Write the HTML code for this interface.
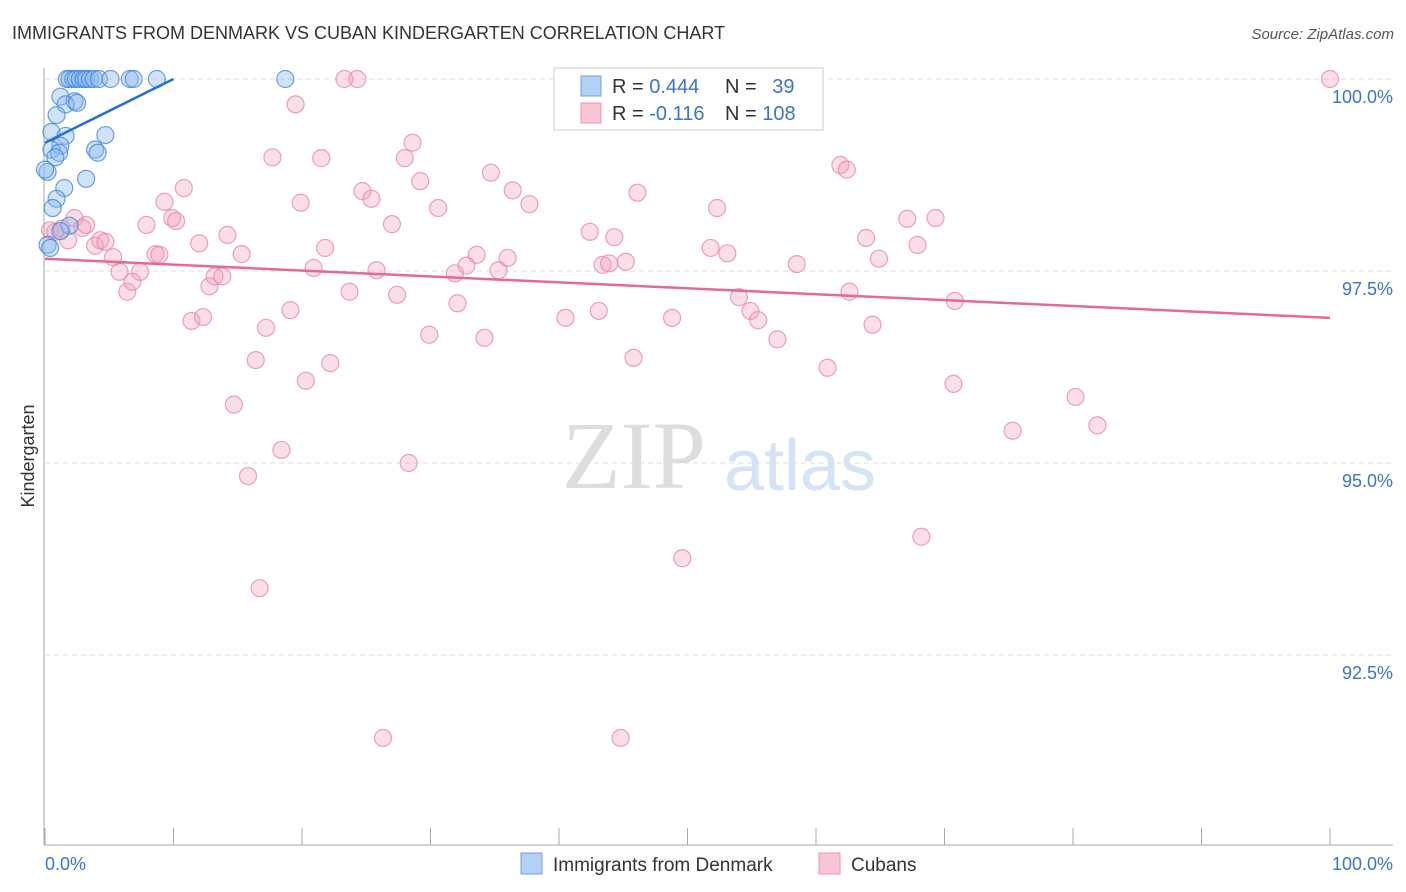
<!DOCTYPE html>
<html><head><meta charset="utf-8"><style>
body{margin:0;background:#fff;font-family:"Liberation Sans",sans-serif}
svg{display:block}
</style></head><body>
<svg id="c" width="1406" height="892" xmlns="http://www.w3.org/2000/svg">
<text x="12" y="39" font-size="18" fill="#333">IMMIGRANTS FROM DENMARK VS CUBAN KINDERGARTEN CORRELATION CHART</text>
<text x="1394" y="39" font-size="15" fill="#555" font-style="italic" text-anchor="end">Source: ZipAtlas.com</text>
<text x="634" y="488" font-size="96" fill="#ddd" font-family="Liberation Serif" text-anchor="middle">ZIP</text>
<text x="800" y="490" font-size="72" fill="#d4e3f5" text-anchor="middle">atlas</text>
<text transform="translate(34,456) rotate(-90)" font-size="18" fill="#333" text-anchor="middle">Kindergarten</text>
<g id="grid"></g><g id="pts"></g><g id="lines"></g>
<g>
<rect x="554" y="68" width="269" height="62" fill="#fff" stroke="#ccc"/>
<rect x="581" y="76" width="20" height="20" fill="#b3d0f5" stroke="#6fa0e0"/>
<rect x="581" y="103" width="20" height="20" fill="#f9c5d5" stroke="#ec95b0"/>
<text x="612" y="93" font-size="20" fill="#333">R = <tspan fill="#3a73d0">0.444</tspan></text>
<text x="725" y="93" font-size="20" fill="#333">N = <tspan fill="#3a73d0" dx="10">39</tspan></text>
<text x="612" y="120" font-size="20" fill="#333">R = <tspan fill="#3a73d0">-0.116</tspan></text>
<text x="725" y="120" font-size="20" fill="#333">N = <tspan fill="#3a73d0">108</tspan></text>
</g>
<g>
<rect x="521" y="853" width="21" height="21" fill="#b3d0f5" stroke="#6fa0e0"/>
<text x="553" y="871" font-size="19" fill="#333">Immigrants from Denmark</text>
<rect x="819" y="853" width="21" height="21" fill="#f9c5d5" stroke="#ec95b0"/>
<text x="851" y="871" font-size="19" fill="#333">Cubans</text>
</g>
</svg>
<script>
const xTicks=[0,10,20,30,40,50,60,70,80,90,100];
const yTicks=[100,97.5,95,92.5];
const yTickLabels=["100.0%","97.5%","95.0%","92.5%"];
const blueX=[1.7,1.9,2.2,2.4,2.7,3.0,3.2,3.5,3.8,4.2,5.1,6.6,6.9,8.7,18.7,1.2,2.3,1.6,2.5,0.9,0.5,1.6,4.7,1.2,0.5,1.1,0.8,3.9,4.1,0.2,1.5,3.2,0.9,0.6,1.9,0.2,0.4,1.2,0];
const blueY=[100,100,100,100,100,100,100,100,100,100,100,100,100,100,100,99.77,99.71,99.67,99.69,99.53,99.31,99.26,99.27,99.13,99.08,99.04,98.98,99.08,99.04,98.79,98.58,98.70,98.44,98.32,98.09,97.84,97.80,98.02,98.82];
const pinkX=[0.4,0.8,1.3,1.8,2.3,2.9,3.2,3.9,4.3,4.7,5.3,5.8,6.4,6.8,7.4,7.9,8.6,8.9,9.3,9.9,10.2,10.8,11.4,12.0,12.3,12.8,13.2,13.8,14.2,14.7,15.3,15.8,16.4,16.7,17.2,17.7,18.4,19.1,19.5,19.9,20.3,20.9,21.5,21.8,22.2,23.3,23.7,24.3,24.7,25.4,25.8,26.3,27.0,27.4,28.0,28.3,28.6,29.2,29.9,30.6,31.9,32.1,32.8,33.6,34.2,34.7,35.3,36.0,36.4,37.7,40.5,42.4,43.1,43.4,43.9,44.3,44.8,45.2,45.8,46.1,48.8,49.6,51.8,52.3,53.1,54.0,54.9,55.5,57.0,58.5,60.9,61.9,62.4,62.6,63.9,64.4,64.9,67.1,67.9,68.2,69.3,70.7,70.8,75.3,80.2,81.9,100];
const pinkY=[98.03,98.01,98.05,97.90,98.19,98.06,98.10,97.83,97.90,97.88,97.68,97.49,97.23,97.36,97.49,98.10,97.72,97.71,98.40,98.19,98.15,98.58,96.85,97.86,96.90,97.30,97.43,97.43,97.97,95.76,97.72,94.83,96.34,93.37,96.76,98.98,95.17,96.99,99.67,98.39,96.07,97.54,98.97,97.80,96.30,100,97.23,100,98.54,98.44,97.51,91.42,98.11,97.19,98.97,95.00,99.17,98.67,96.67,98.32,97.47,97.08,97.57,97.71,96.63,98.78,97.51,97.67,98.55,98.37,96.89,98.01,96.98,97.58,97.60,97.94,91.42,97.62,96.37,98.52,96.89,93.76,97.80,98.32,97.73,97.16,96.98,96.86,96.61,97.59,96.24,98.88,98.82,97.23,97.93,96.80,97.66,98.18,97.84,94.04,98.19,96.03,97.11,95.42,95.86,95.49,100];
const blueTrend=[[0,99.17],[10,100]];
const pinkTrend=[[0,97.66],[100,96.89]];
const NS="http://www.w3.org/2000/svg";
const X=v=>45+v*12.85, Y=v=>79+(100-v)*76.8;
function mk(t,a,p){const e=document.createElementNS(NS,t);for(const k in a)e.setAttribute(k,a[k]);p.appendChild(e);return e;}
const grid=document.getElementById('grid'),pts=document.getElementById('pts'),lines=document.getElementById('lines');
yTicks.forEach((v,i)=>{
 const l=mk('line',{x1:45,x2:1393,y1:Y(v),y2:Y(v),stroke:'#ddd','stroke-dasharray':'5,4'},grid);
 
 
 const t=mk('text',{x:1393,y:Y(v)+24,'font-size':18,fill:'#3a73d0','text-anchor':'end'},grid);
 t.textContent=yTickLabels[i];
 
 
});
const ax=mk('line',{x1:44,x2:44,y1:68,y2:845,stroke:'#aaa'},grid);


const bx=mk('line',{x1:44,x2:1393,y1:845,y2:845,stroke:'#aaa'},grid);


xTicks.forEach(v=>{
 const t=mk('line',{x1:X(v),x2:X(v),y1:828,y2:845,stroke:'#aaa'},grid);
 
 
});
[[0,'0.0%','start',45],[100,'100.0%','end',1393]].forEach(d=>{
 const t=mk('text',{x:d[3],y:870,'font-size':18,fill:'#3a73d0','text-anchor':d[2]},grid);
 t.textContent=d[1];
 
 
});
pinkX.forEach((x,i)=>{
 const c=mk('circle',{cx:X(x),cy:Y(pinkY[i]),r:8.5,fill:'rgba(244,160,190,0.35)',stroke:'rgba(232,130,165,0.75)','stroke-width':1.2},pts);
 
 
});
blueX.forEach((x,i)=>{
 const c=mk('circle',{cx:X(x),cy:Y(blueY[i]),r:8.5,fill:'rgba(140,185,240,0.4)',stroke:'rgba(60,130,220,0.75)','stroke-width':1.2},pts);
 
 
});
const bl=mk('line',{x1:X(blueTrend[0][0]),y1:Y(blueTrend[0][1]),x2:X(blueTrend[1][0]),y2:Y(blueTrend[1][1]),stroke:'#2470d8','stroke-width':2.5},lines);


const pl=mk('line',{x1:X(pinkTrend[0][0]),y1:Y(pinkTrend[0][1]),x2:X(pinkTrend[1][0]),y2:Y(pinkTrend[1][1]),stroke:'#e5689a','stroke-width':2.5},lines);


</script>
</body></html>
